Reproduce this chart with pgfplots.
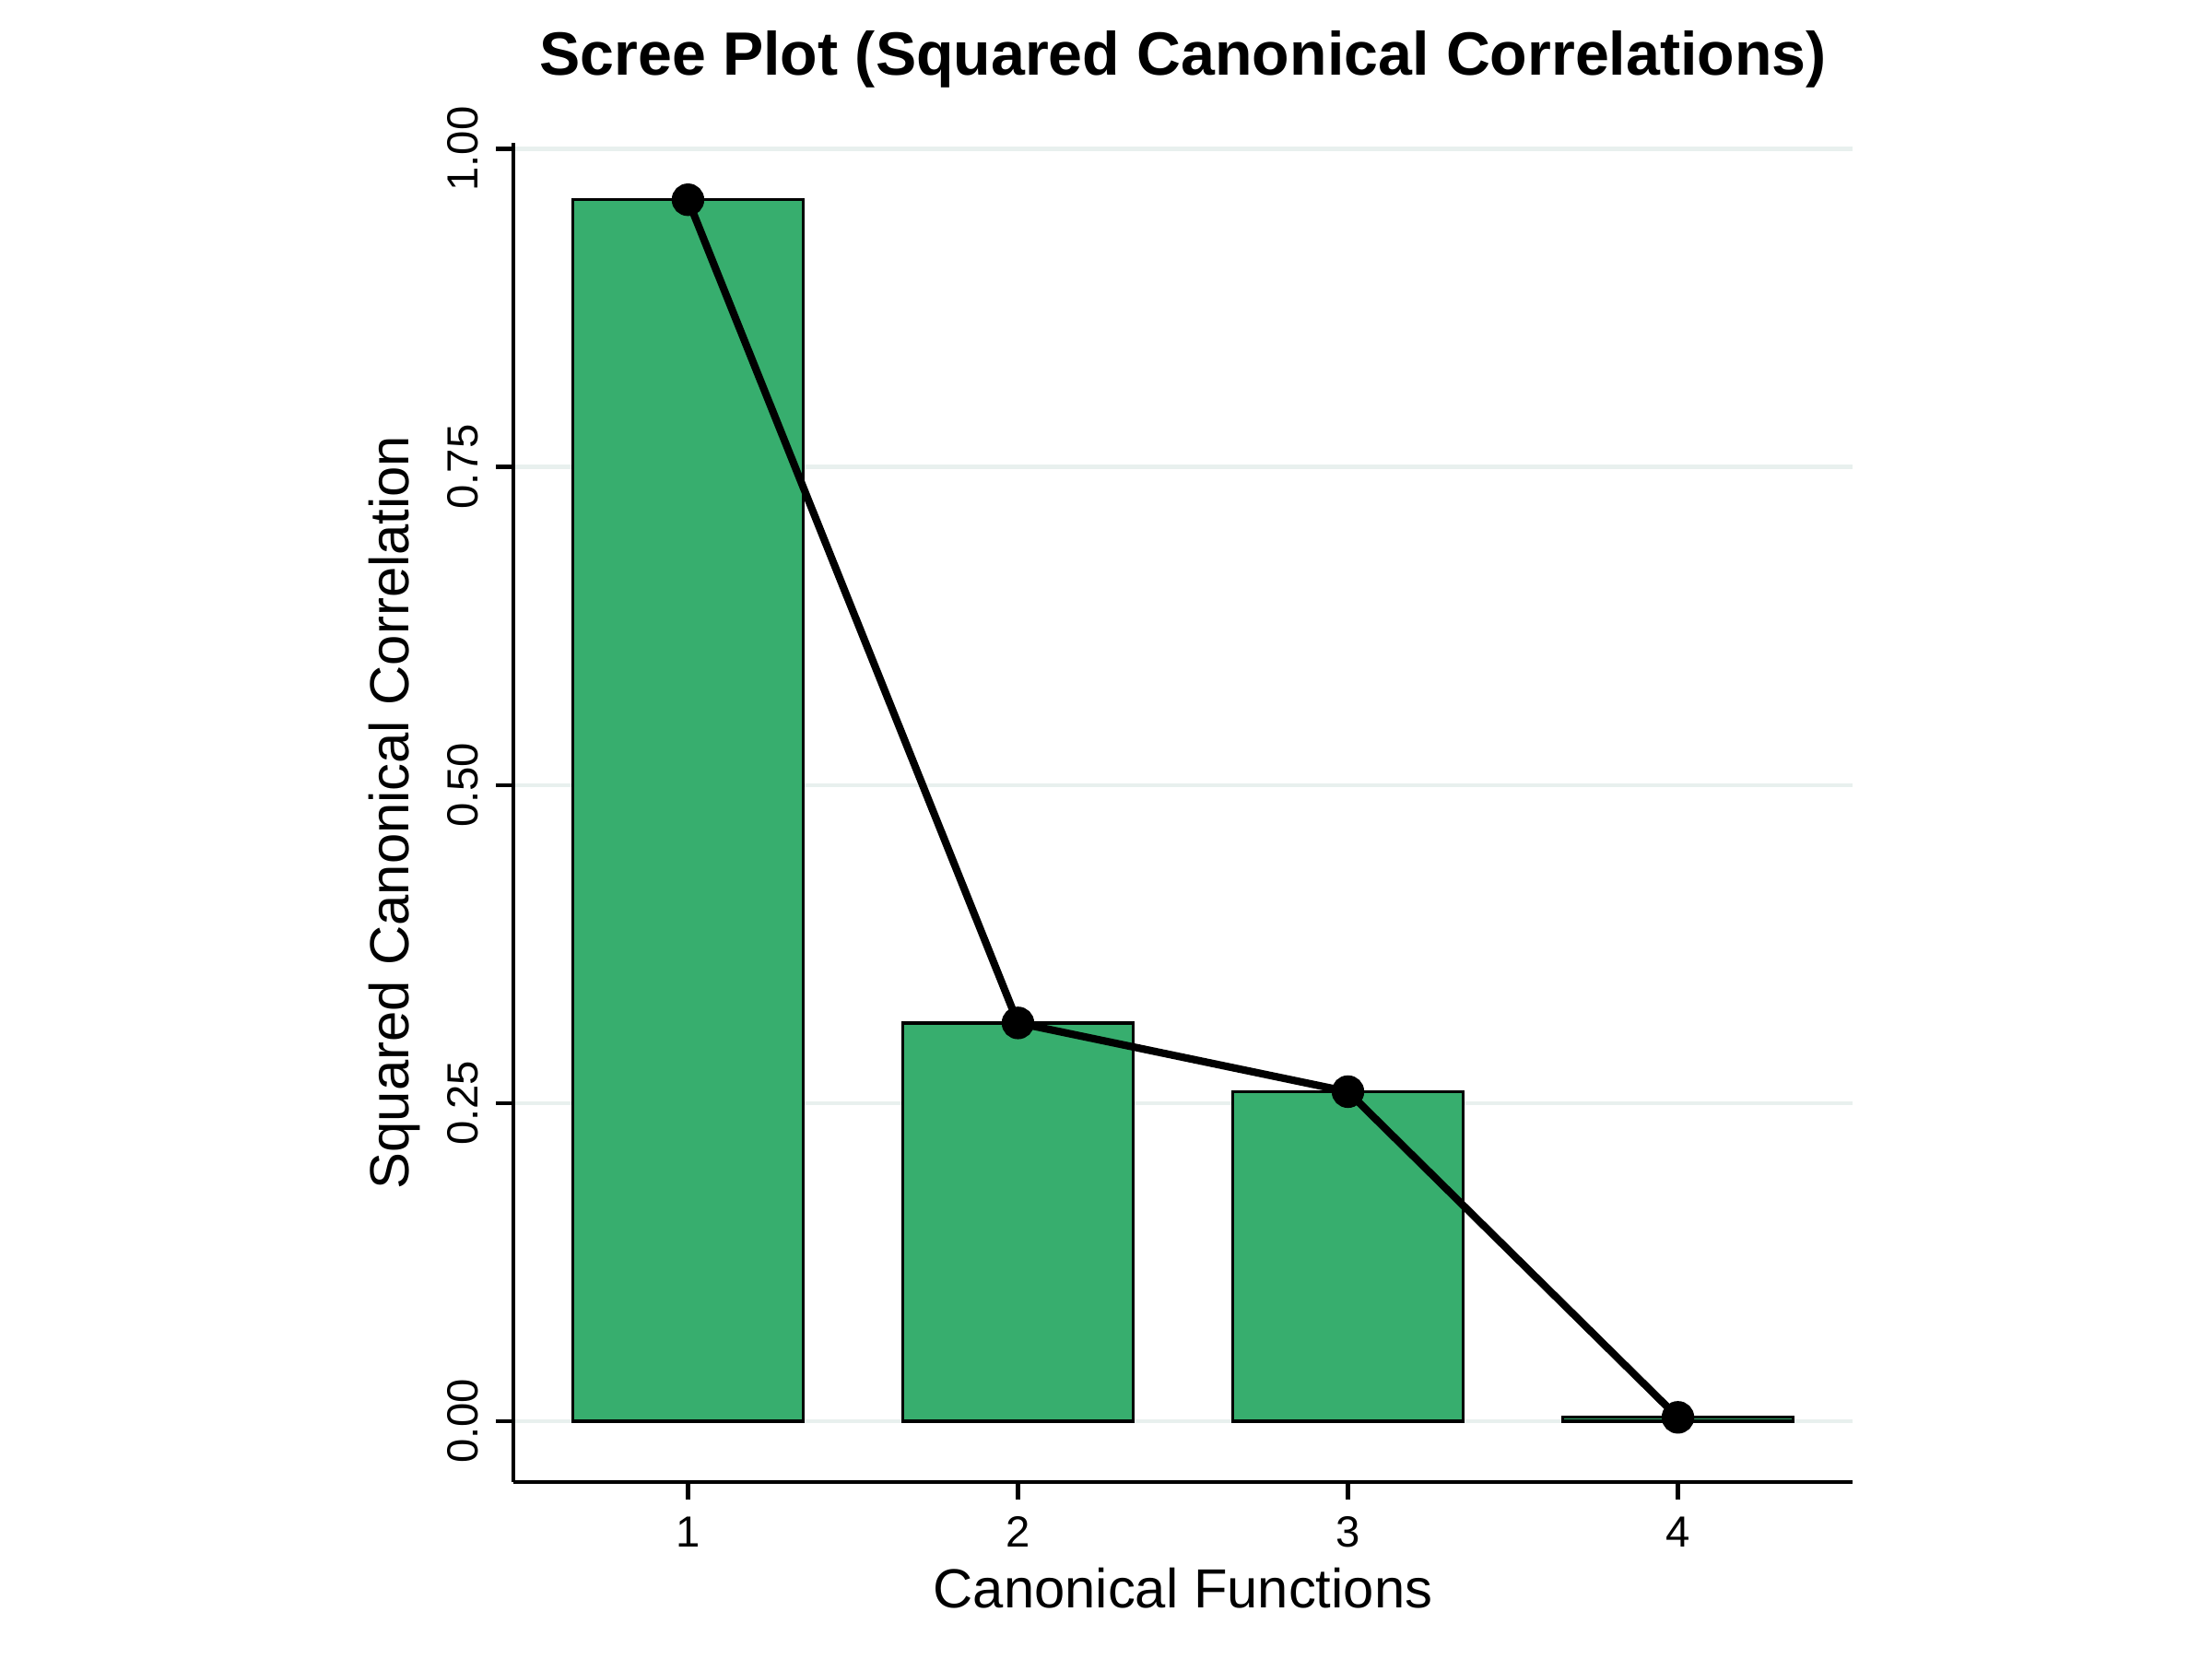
\documentclass[border=0pt]{standalone}
\usepackage{pgfplots}
\pgfplotsset{compat=1.18}
\usepackage{fontspec}
\setmainfont{Liberation Sans}
\definecolor{barg}{HTML}{37AE6E}
\definecolor{gridc}{HTML}{E8F0EE}
\begin{document}
\begin{tikzpicture}
\path (0,0) rectangle (15.52,11.64);
\begin{axis}[at={(3.6cm,1.24cm)},anchor=south west,scale only axis,
 width=9.4cm,height=9.4cm,
 xmin=0.47,xmax=4.53,ymin=-0.048,ymax=1.005,
 axis x line*=bottom, axis y line*=left,
 xtick={1,2,3,4}, ytick={0,0.25,0.5,0.75,1},
 yticklabels={0.00,0.25,0.50,0.75,1.00},
 tick align=outside, tick style={black,line width=0.8pt}, major tick length=0.12cm,
 axis line style={line width=0.8pt},
 ymajorgrids, grid style={gridc,line width=0.8pt},
 /pgf/number format/assume math mode=true,
 ticklabel style={font=\fontsize{8.7}{10}\selectfont},
 yticklabel style={rotate=90,anchor=south},
 xlabel={Canonical Functions}, ylabel={Squared Canonical Correlation},
 label style={font=\fontsize{11}{13}\selectfont},
 xlabel style={yshift=0.1cm}, ylabel style={yshift=-0.05cm},
 title={\bfseries Scree Plot (Squared Canonical Correlations)},
 title style={font=\fontsize{12.2}{14}\selectfont,yshift=0.05cm},
]
\addplot[ybar,bar width=0.7,fill=barg,draw=black,line width=0.6pt] coordinates {(1,0.96) (2,0.313) (3,0.259) (4,0.003)};
\addplot[black,line width=1.5pt,mark=*,mark size=2.5pt] coordinates {(1,0.96) (2,0.313) (3,0.259) (4,0.003)};
\end{axis}
\end{tikzpicture}
\end{document}
